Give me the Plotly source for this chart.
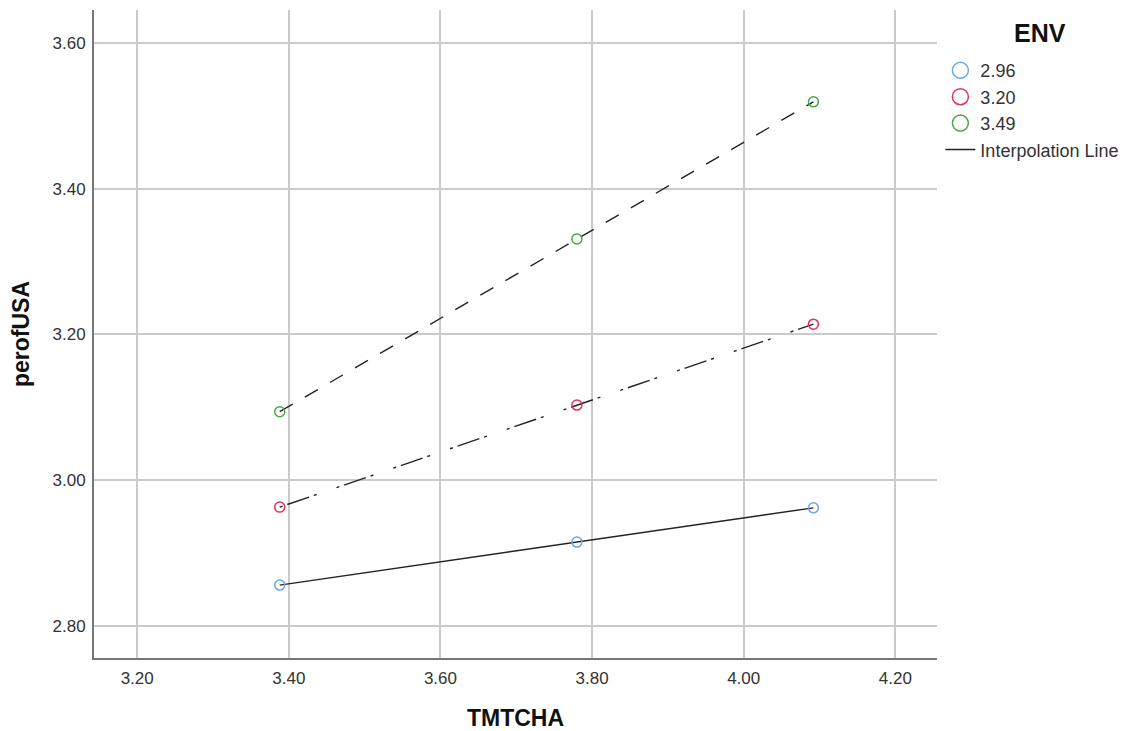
import plotly.graph_objects as go

tmtcha = [3.388, 3.780, 4.092]
env_labels = ["2.96", "3.20", "3.49"]
perof_low = [2.856, 2.915, 2.962]
perof_mid = [2.963, 3.103, 3.214]
perof_high = [3.094, 3.331, 3.519]
x_ticks = [3.2, 3.4, 3.6, 3.8, 4.0, 4.2]
y_ticks = [2.8, 3.0, 3.2, 3.4, 3.6]

series = [perof_low, perof_mid, perof_high]
colors = ["#6FA6E8", "#E2315C", "#48A748"]
dashes = ["solid", "3px,5px,23px,5px,3px,21px", "15px,14px"]

fig = go.Figure()
for ys, dash in zip(series, dashes):
    fig.add_trace(go.Scatter(x=tmtcha, y=ys, mode="lines",
                             line=dict(color="#222222", width=1.4, dash=dash),
                             showlegend=False, hoverinfo="skip"))
for ys, col, lab in zip(series, colors, env_labels):
    fig.add_trace(go.Scatter(x=tmtcha, y=ys, mode="markers",
                             marker=dict(symbol="circle-open", size=10, color=col,
                                         line=dict(width=1.5, color=col)),
                             showlegend=False, name=lab))
# legend entries
for col, lab in zip(colors, env_labels):
    fig.add_trace(go.Scatter(x=[None], y=[None], mode="markers", name=lab,
                             marker=dict(symbol="circle-open", size=16, color=col,
                                         line=dict(width=1.5, color=col))))
fig.add_trace(go.Scatter(x=[None], y=[None], mode="lines", name="Interpolation Line",
                         line=dict(color="#222222", width=1.4)))

fig.update_layout(
    width=1120, height=723,
    margin=dict(l=86, r=191, t=2, b=73),
    plot_bgcolor="white", paper_bgcolor="white",
    font=dict(family="Liberation Sans, Arial, sans-serif", color="#222222"),
    legend=dict(
        x=1.004, xanchor="left", y=0.935, yanchor="top",
        font=dict(size=18, color="#333333"),
        bgcolor="rgba(0,0,0,0)", tracegroupgap=0,
    ),
    annotations=[dict(text="<b>ENV</b>", xref="paper", yref="paper",
                      x=(1032 - 86) / 843, y=(650 - 25) / 648,
                      xanchor="center", yanchor="middle", showarrow=False,
                      font=dict(size=25, color="#111111"))],
    xaxis=dict(
        range=[3.143, 4.255], tickvals=x_ticks,
        ticktext=[f"{v:.2f}" for v in x_ticks],
        showgrid=True, gridcolor="#CACACA", gridwidth=1.5,
        showline=True, linecolor="#777777", linewidth=2,
        ticks="outside", ticklen=4, tickcolor="rgba(0,0,0,0)",
        zeroline=False, automargin=False,
        tickfont=dict(size=17, color="#333333"),
        title=dict(text="<b>TMTCHA</b>", font=dict(size=23, color="#111111"), standoff=26),
    ),
    yaxis=dict(
        range=[2.756, 3.645], tickvals=y_ticks,
        ticktext=[f"{v:.2f}" for v in y_ticks],
        showgrid=True, gridcolor="#CACACA", gridwidth=1.5,
        showline=True, linecolor="#777777", linewidth=2,
        ticks="outside", ticklen=3, tickcolor="rgba(0,0,0,0)",
        zeroline=False, automargin=False,
        tickfont=dict(size=17, color="#333333"),
        title=dict(text="<b>perofUSA</b>", font=dict(size=23, color="#111111"), standoff=16),
    ),
)

fig.write_html("out.html")
